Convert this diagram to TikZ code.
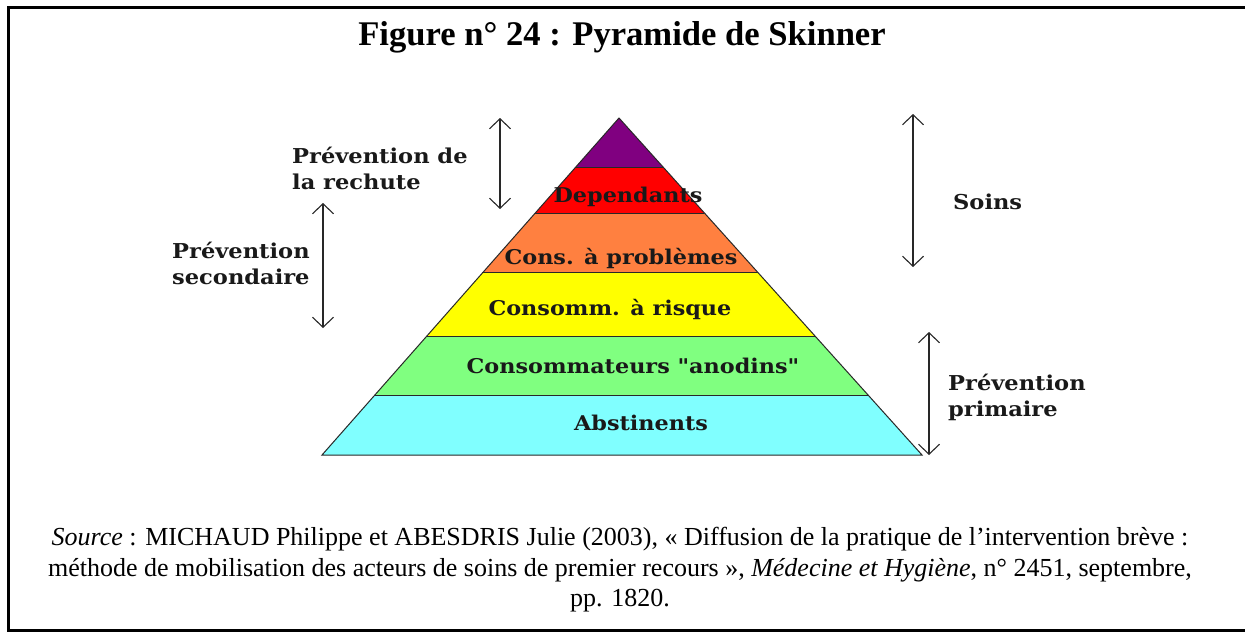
\documentclass[tikz,border=0pt]{standalone}
\usepackage{fontspec}
\setmainfont{Liberation Serif}
\newfontfamily\bk[FakeStretch=1.1]{DejaVu Serif}
\usetikzlibrary{arrows.meta,calc}
\definecolor{cpurple}{RGB}{128,0,128}
\definecolor{cred}{RGB}{255,0,0}
\definecolor{corange}{RGB}{255,128,64}
\definecolor{cyellow}{RGB}{255,255,0}
\definecolor{cgreen}{RGB}{128,255,128}
\definecolor{ccyan}{RGB}{128,255,255}
\definecolor{edge}{RGB}{40,40,40}
\definecolor{ink}{RGB}{25,25,25}
\tikzset{
  dbl/.style={{Straight Barb[length=10pt,width=21pt]}-{Straight Barb[length=10pt,width=21pt]}, line width=1.1pt, draw=edge},
  bandlabel/.style={font=\bk\bfseries\fontsize{20.3}{23}\selectfont, text=ink, inner sep=0pt},
  sidelabel/.style={font=\bk\bfseries\fontsize{20.5}{26}\selectfont, text=ink, align=left, anchor=west, inner sep=0pt},
}
\begin{document}
\begin{tikzpicture}[x=1pt,y=-1pt]
\useasboundingbox (0,0) rectangle (1245,632);
\fill[white] (0,0) rectangle (1245,632);
% frame (right side lies outside the picture)
\draw[line width=3pt] (1250,7.5) -- (8.5,7.5) -- (8.5,630.5) -- (1250,630.5);
% title
\node[font=\bfseries\fontsize{34.6}{40}\selectfont, inner sep=0pt] (title) at (622,37) {Figure n° 24 : Pyramide de Skinner};
% pyramid
\coordinate (A) at (619,118);
\coordinate (L) at (322,455);
\coordinate (R) at (922,455);
\foreach \ta/\tb/\c in {0/0.1454/cpurple, 0.1454/0.2819/cred, 0.2819/0.4599/corange, 0.4599/0.6469/cyellow, 0.6469/0.8249/cgreen, 0.8249/1/ccyan}{
  \fill[\c] ($(A)!\ta!(L)$) -- ($(A)!\ta!(R)$) -- ($(A)!\tb!(R)$) -- ($(A)!\tb!(L)$) -- cycle;
}
\foreach \t in {0.1454,0.2819,0.4599,0.6469,0.8249}{
  \draw[edge, line width=1pt] ($(A)!\t!(L)$) -- ($(A)!\t!(R)$);
}
\draw[edge, line width=1pt, line join=miter] (L) -- (A) -- (R) -- cycle;
% band labels
\node[bandlabel] (dep) at (628,197) {Dependants};
\node[bandlabel] (cons) at (621,258) {Cons. à problèmes};
\node[bandlabel] (risq) at (610,309) {Consomm. à risque};
\node[bandlabel] (anod) at (633,366) {Consommateurs "anodins"};
\node[bandlabel] (abst) at (641,423) {Abstinents};
% side labels
\node[sidelabel] (rech) at (292,168) {Prévention de\\la rechute};
\node[sidelabel] (sec) at (172,263) {Prévention\\secondaire};
\node[sidelabel] (soins) at (953,202) {Soins};
\node[sidelabel] (prim) at (948,397) {Prévention\\primaire};
% arrows
\coordinate (a1t) at (500,118); \coordinate (a1b) at (500,209);
\coordinate (a2t) at (323,203); \coordinate (a2b) at (323,328);
\coordinate (a3t) at (913,114); \coordinate (a3b) at (913,267);
\coordinate (a4t) at (929,332); \coordinate (a4b) at (929,455);
\draw[dbl] (a1t) -- (a1b);
\draw[dbl] (a2t) -- (a2b);
\draw[dbl] (a3t) -- (a3b);
\draw[dbl] (a4t) -- (a4b);
% source
\node[font=\fontsize{26}{30.5}\selectfont, align=center, inner sep=0pt] (src) at (620,570) {\textit{Source} : MICHAUD Philippe et ABESDRIS Julie (2003), «~Diffusion de la pratique de l’intervention brève :\\méthode de mobilisation des acteurs de soins de premier recours~», \textit{Médecine et Hygiène}, n° 2451, septembre,\\pp. 1820.};
\end{tikzpicture}
\end{document}
